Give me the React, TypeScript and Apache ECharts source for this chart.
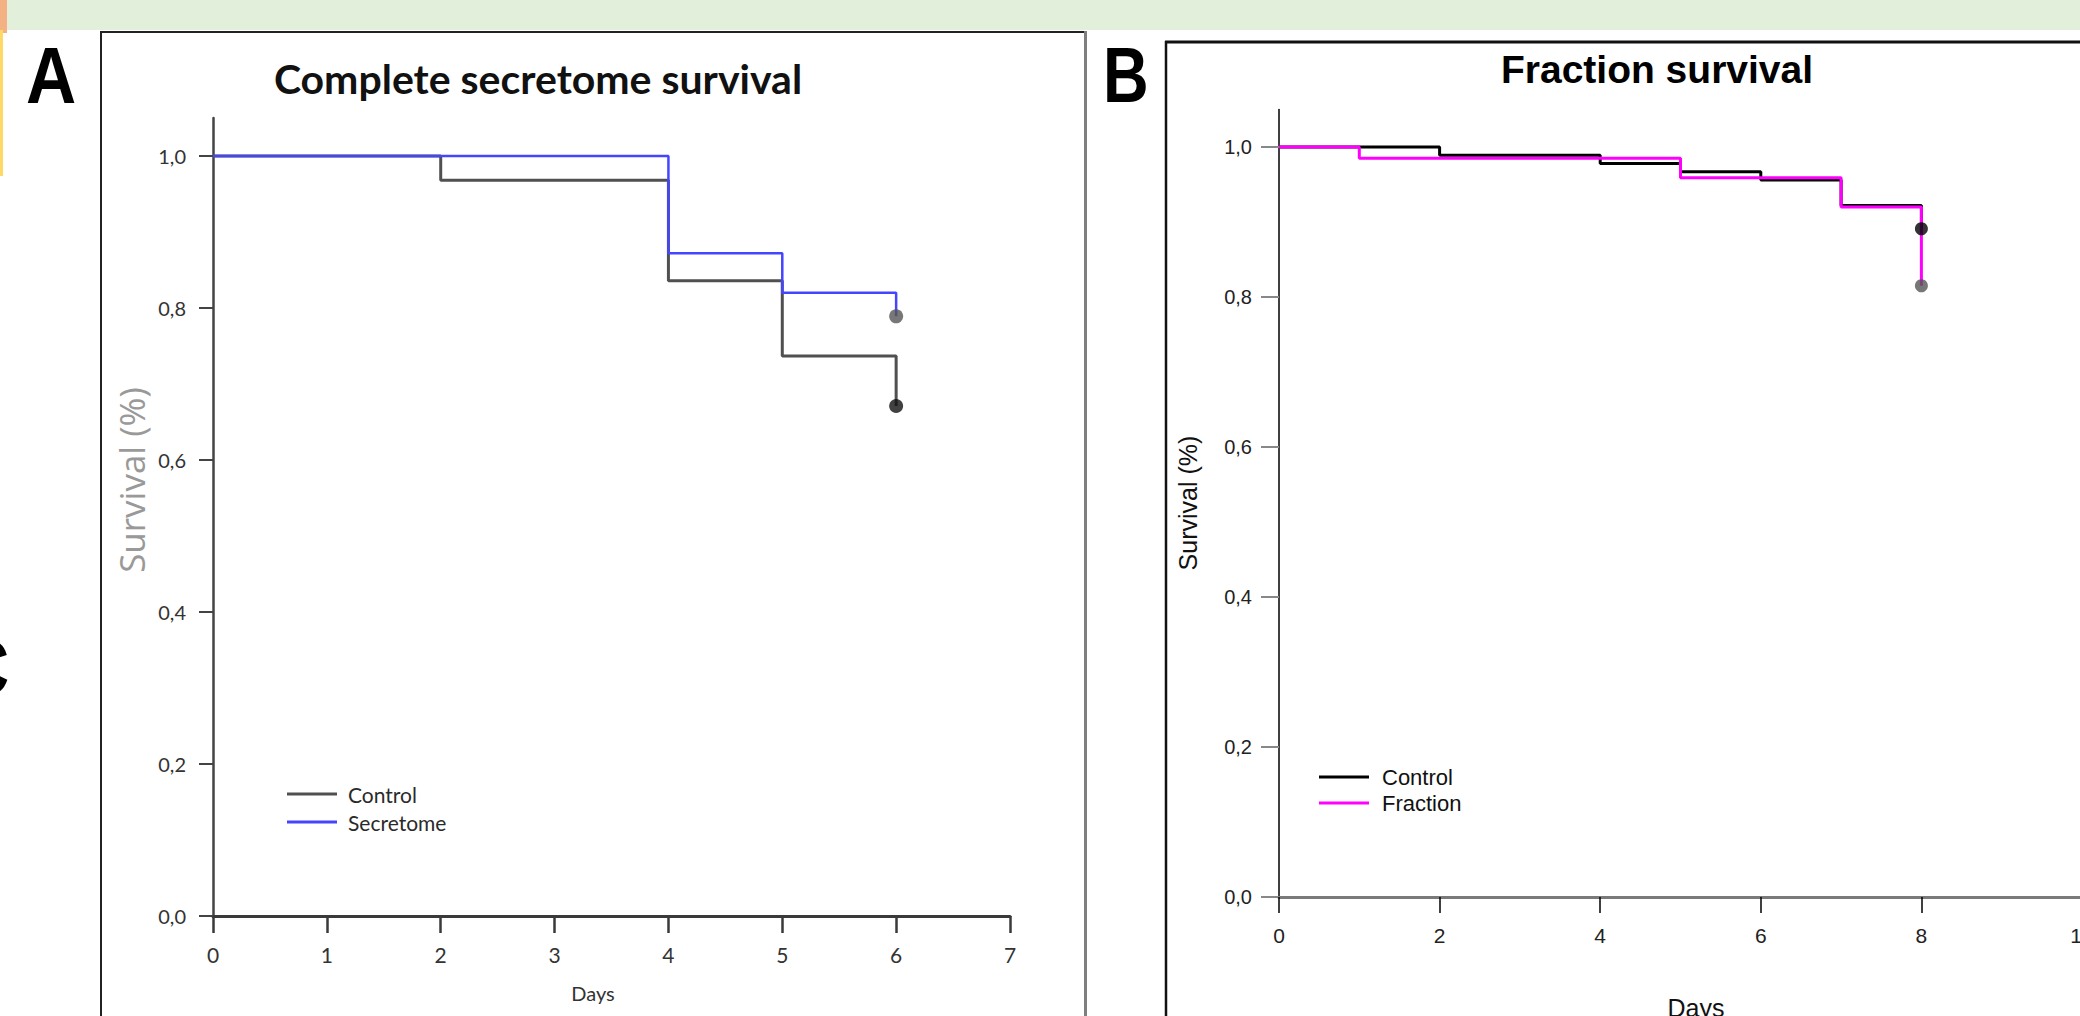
import React, { useEffect, useRef } from 'react';
import * as echarts from 'echarts';

// ---- data ----
const yTickValues = [0, 0.2, 0.4, 0.6, 0.8, 1.0];

const daysControlA = [0, 2, 4, 5, 6];
const survivalControlA = [1.0, 0.968, 0.836, 0.737, 0.671];
const daysSecretomeA = [0, 4, 5, 6];
const survivalSecretomeA = [1.0, 0.872, 0.82, 0.789];

const daysControlB = [0, 2, 4, 5, 6, 7, 8];
const survivalControlB = [1.0, 0.989, 0.978, 0.967, 0.956, 0.922, 0.891];
const daysFractionB = [0, 1, 5, 7, 8];
const survivalFractionB = [1.0, 0.985, 0.959, 0.92, 0.815];

const legendNamesA = ['Control', 'Secretome'];
const legendNamesB = ['Control (B)', 'Fraction'];

const titleA = 'Complete secretome survival';
const titleB = 'Fraction survival';
const yNameA = 'Survival (%)';
const yNameB = 'Survival (%)';
const xName = 'Days';

const pairs = (xs: number[], ys: number[]) => xs.map((x, i) => [x, ys[i]]);
const last = (xs: number[], ys: number[]) => [[xs[xs.length - 1], ys[ys.length - 1]]];
const fmt = (v: number) => v.toFixed(1).replace('.', ',');

const LATO = 'Lato, "Open Sans", sans-serif';
const ARIAL = '"Liberation Sans", Arial, sans-serif';

function buildOption(): any {
  return {
    animation: false,
    backgroundColor: '#ffffff',
    grid: [
      { left: 213, top: 118, width: 797, height: 798, containLabel: false, outerBoundsMode: 'none' },
      { left: 1279, top: 109.5, width: 803, height: 787.5, containLabel: false, outerBoundsMode: 'none' },
    ],
    xAxis: [
      {
        gridIndex: 0, type: 'value', min: 0, max: 7, interval: 1,
        axisLine: { show: true, lineStyle: { color: '#3a3a3a', width: 3 } },
        axisTick: { show: true, length: 17, lineStyle: { color: '#3a3a3a', width: 2.5 } },
        axisLabel: { margin: 28, fontFamily: LATO, fontSize: 21, color: '#333' },
        splitLine: { show: false },
      },
      {
        gridIndex: 1, type: 'value', min: 0, max: 10, interval: 2,
        axisLine: { show: true, lineStyle: { color: '#7a7a7a', width: 3 } },
        axisTick: { show: true, length: 16, lineStyle: { color: '#000', width: 1.5 } },
        axisLabel: { margin: 28, fontFamily: ARIAL, fontSize: 21, color: '#222' },
        splitLine: { show: false },
      },
    ],
    yAxis: [
      {
        gridIndex: 0, type: 'value', min: 0, max: 1.05,
        axisLine: { show: true, lineStyle: { color: '#444', width: 2.5 } },
        axisTick: { show: true, length: 14, customValues: yTickValues, lineStyle: { color: '#444', width: 2 } },
        axisLabel: { customValues: yTickValues, formatter: fmt, margin: 27, fontFamily: LATO, fontSize: 20, color: '#333' },
        splitLine: { show: false },
      },
      {
        gridIndex: 1, type: 'value', min: 0, max: 1.05,
        axisLine: { show: true, lineStyle: { color: '#000', width: 1.5 } },
        axisTick: { show: true, length: 18, customValues: yTickValues, lineStyle: { color: '#888', width: 2 } },
        axisLabel: { customValues: yTickValues, formatter: fmt, margin: 27, fontFamily: ARIAL, fontSize: 20, color: '#222' },
        splitLine: { show: false },
      },
    ],
    legend: [
      {
        left: 287, top: 782, orient: 'vertical', padding: 0, itemGap: 4,
        itemWidth: 50, itemHeight: 3, icon: 'rect', selectedMode: false,
        data: legendNamesA,
        textStyle: { fontFamily: LATO, fontSize: 21, color: '#2a2a2a', lineHeight: 24, padding: [0, 0, 0, 6] },
      },
      {
        left: 1319, top: 765, orient: 'vertical', padding: 0, itemGap: 2,
        itemWidth: 50, itemHeight: 3, icon: 'rect', selectedMode: false,
        data: legendNamesB,
        formatter: (n: string) => n.replace(' (B)', ''),
        textStyle: { fontFamily: ARIAL, fontSize: 22, color: '#111', lineHeight: 24, padding: [0, 0, 0, 8] },
      },
    ],
    series: [
      {
        name: 'Control', type: 'line', step: 'end', xAxisIndex: 0, yAxisIndex: 0,
        data: pairs(daysControlA, survivalControlA), showSymbol: false, z: 2,
        itemStyle: { color: '#505050' }, lineStyle: { color: '#505050', width: 3 },
      },
      {
        name: 'Secretome', type: 'line', step: 'end', xAxisIndex: 0, yAxisIndex: 0,
        data: pairs(daysSecretomeA, survivalSecretomeA), showSymbol: false, z: 3,
        itemStyle: { color: '#4545ff' }, lineStyle: { color: '#4545ff', width: 2.5 },
      },
      {
        name: 'ctrlA-end', type: 'scatter', xAxisIndex: 0, yAxisIndex: 0, z: 4,
        data: last(daysControlA, survivalControlA), symbolSize: 14, itemStyle: { color: '#111' },
      },
      {
        name: 'secA-end', type: 'scatter', xAxisIndex: 0, yAxisIndex: 0, z: 4,
        data: last(daysSecretomeA, survivalSecretomeA), symbolSize: 14, itemStyle: { color: '#555' },
      },
      {
        name: 'Control (B)', type: 'line', step: 'end', xAxisIndex: 1, yAxisIndex: 1,
        data: pairs(daysControlB, survivalControlB), showSymbol: false, z: 2,
        itemStyle: { color: '#000' }, lineStyle: { color: '#000', width: 3 },
      },
      {
        name: 'Fraction', type: 'line', step: 'end', xAxisIndex: 1, yAxisIndex: 1,
        data: pairs(daysFractionB, survivalFractionB), showSymbol: false, z: 3,
        itemStyle: { color: '#ff00ff' }, lineStyle: { color: '#ff00ff', width: 3 },
      },
      {
        name: 'ctrlB-end', type: 'scatter', xAxisIndex: 1, yAxisIndex: 1, z: 4,
        data: last(daysControlB, survivalControlB), symbolSize: 13, itemStyle: { color: '#000' },
      },
      {
        name: 'fracB-end', type: 'scatter', xAxisIndex: 1, yAxisIndex: 1, z: 4,
        data: last(daysFractionB, survivalFractionB), symbolSize: 13, itemStyle: { color: '#555' },
      },
    ],
    graphic: [
      { type: 'rect', z: -10, shape: { x: 0, y: 0, width: 2080, height: 30 }, style: { fill: '#e2efda' } },
      { type: 'rect', z: -9, shape: { x: 0, y: 0, width: 7, height: 33 }, style: { fill: '#f4b183' } },
      { type: 'rect', z: -9, shape: { x: 0, y: 30, width: 3, height: 146 }, style: { fill: '#ffd966' } },
      // panel A frame
      { type: 'line', shape: { x1: 101, y1: 32, x2: 1087, y2: 32 }, style: { stroke: '#222', lineWidth: 2 } },
      { type: 'line', shape: { x1: 101, y1: 31, x2: 101, y2: 1016 }, style: { stroke: '#222', lineWidth: 2 } },
      { type: 'line', shape: { x1: 1085.5, y1: 31, x2: 1085.5, y2: 1016 }, style: { stroke: '#7f7f7f', lineWidth: 3 } },
      // panel B frame
      { type: 'line', shape: { x1: 1165, y1: 42, x2: 2080, y2: 42 }, style: { stroke: '#111', lineWidth: 3 } },
      { type: 'line', shape: { x1: 1166, y1: 41, x2: 1166, y2: 1016 }, style: { stroke: '#111', lineWidth: 2.5 } },
      // panel letters
      {
        type: 'group', x: 26, y: 76, scaleX: 0.88,
        children: [{ type: 'text', style: { text: 'A', x: 0, y: 0, fontFamily: ARIAL, fontWeight: 'bold', fontSize: 79, fill: '#000', align: 'left', textAlign: 'left', verticalAlign: 'middle', textVerticalAlign: 'middle' } }],
      },
      {
        type: 'group', x: 1103, y: 75.5, scaleX: 0.81,
        children: [{ type: 'text', style: { text: 'B', x: 0, y: 0, fontFamily: ARIAL, fontWeight: 'bold', fontSize: 78, fill: '#000', align: 'left', textAlign: 'left', verticalAlign: 'middle', textVerticalAlign: 'middle' } }],
      },
      {
        type: 'group', x: 9, y: 667, scaleX: 0.8,
        children: [{ type: 'text', style: { text: 'C', x: 0, y: 0, fontFamily: ARIAL, fontWeight: 'bold', fontSize: 78, fill: '#000', align: 'right', textAlign: 'right', verticalAlign: 'middle', textVerticalAlign: 'middle' } }],
      },
      // titles
      { type: 'text', style: { text: titleA, x: 538, y: 78, fontFamily: LATO, fontWeight: 'bold', fontSize: 41, fill: '#111', align: 'center', textAlign: 'center', verticalAlign: 'middle', textVerticalAlign: 'middle' } },
      { type: 'text', style: { text: titleB, x: 1657, y: 69, fontFamily: ARIAL, fontWeight: 'bold', fontSize: 39, fill: '#000', align: 'center', textAlign: 'center', verticalAlign: 'middle', textVerticalAlign: 'middle' } },
      // axis names
      { type: 'text', x: 131, y: 480, rotation: Math.PI / 2, style: { text: yNameA, x: 0, y: 0, fontFamily: '"Open Sans", Lato, sans-serif', fontSize: 35, fill: '#999999', align: 'center', textAlign: 'center', verticalAlign: 'middle', textVerticalAlign: 'middle' } },
      { type: 'text', x: 1188, y: 503, rotation: Math.PI / 2, style: { text: yNameB, x: 0, y: 0, fontFamily: ARIAL, fontSize: 25, fill: '#111', align: 'center', textAlign: 'center', verticalAlign: 'middle', textVerticalAlign: 'middle' } },
      { type: 'text', style: { text: xName, x: 593, y: 993, fontFamily: LATO, fontSize: 20, fill: '#333', align: 'center', textAlign: 'center', verticalAlign: 'middle', textVerticalAlign: 'middle' } },
      { type: 'text', style: { text: xName, x: 1696, y: 1008, fontFamily: ARIAL, fontSize: 25, fill: '#111', align: 'center', textAlign: 'center', verticalAlign: 'middle', textVerticalAlign: 'middle' } },
    ],
  };
}

export default function App() {
  const ref = useRef<HTMLDivElement>(null);
  useEffect(() => {
    if (!ref.current) return;
    const chart = echarts.init(ref.current, null, { renderer: 'svg', width: 2080, height: 1016 });
    chart.setOption(buildOption());
    return () => chart.dispose();
  }, []);
  return (
    <div
      ref={ref}
      style={{ position: 'fixed', left: 0, top: 0, width: 2080, height: 1016, background: '#fff', overflow: 'hidden' }}
    />
  );
}
